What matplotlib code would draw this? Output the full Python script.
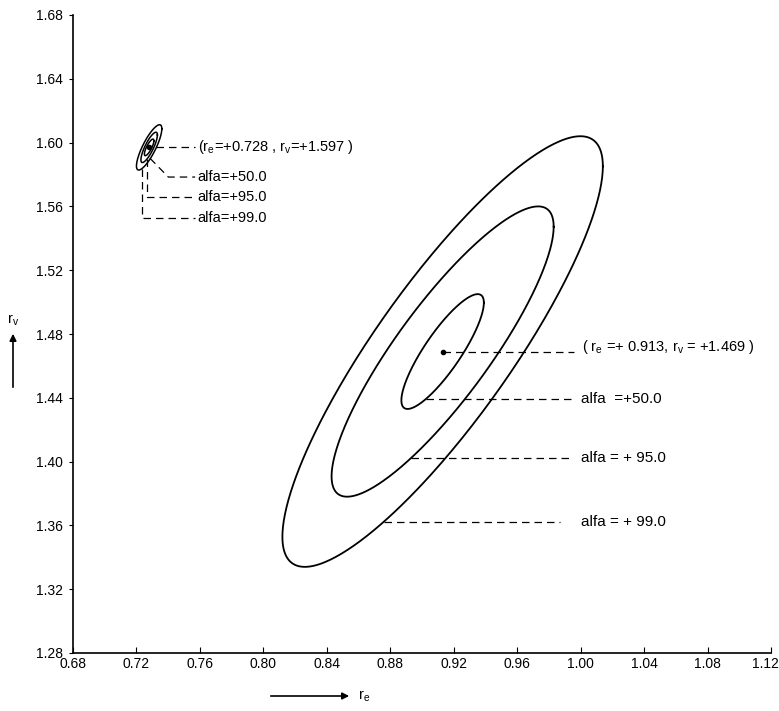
import numpy as np
import matplotlib
matplotlib.use('Agg')
import matplotlib.pyplot as plt
from matplotlib.transforms import ScaledTranslation

plt.rcParams['font.family'] = ['Liberation Sans', 'DejaVu Sans']
plt.rcParams['mathtext.fontset'] = 'custom'
plt.rcParams['mathtext.rm'] = 'Liberation Sans'

# Estimated parameters (centres of the two confidence regions)
big_centre = (0.913, 1.469)
small_centre = (0.728, 1.597)
alfa_levels = [50.0, 95.0, 99.0]

# Half-widths in r_e / r_v and correlation of each contour
big_sx = [0.026, 0.070, 0.101]
big_sy = [0.036, 0.091, 0.135]
big_rho = [0.85, 0.86, 0.86]
small_sx = [0.003, 0.0052, 0.008]
small_sy = [0.0052, 0.0095, 0.0142]
small_rho = [0.80, 0.82, 0.82]

x_ticks = [0.68, 0.72, 0.76, 0.80, 0.84, 0.88, 0.92, 0.96, 1.00, 1.04, 1.08, 1.12]
y_ticks = [1.28, 1.32, 1.36, 1.40, 1.44, 1.48, 1.52, 1.56, 1.60, 1.64, 1.68]

# Where the label leader lines sit (r_v level of each label)
big_label_y = [1.4393, 1.402, 1.3623]
small_label_y = [1.5784, 1.5661, 1.5525]


def ellipse_xy(c, sx, sy, rho, n=400):
    t = np.linspace(0, 2 * np.pi, n)
    x = c[0] + sx * np.cos(t)
    y = c[1] + sy * (rho * np.cos(t) + np.sqrt(1 - rho ** 2) * np.sin(t))
    return x, y


def right_x_at(y, c, sx, sy, rho):
    # right hand crossing of the contour with a horizontal line
    v = (y - c[1]) / sy
    b = -2 * rho * v
    cc = v ** 2 - (1 - rho ** 2)
    u = (-b + np.sqrt(max(b * b - 4 * cc, 0))) / 2
    return c[0] + u * sx


def low_y_at(x, c, sx, sy, rho):
    # lower crossing of the contour with a vertical line
    u = (x - c[0]) / sx
    b = -2 * rho * u
    cc = u ** 2 - (1 - rho ** 2)
    v = (-b - np.sqrt(max(b * b - 4 * cc, 0))) / 2
    return c[1] + v * sy


fig = plt.figure(figsize=(7.79, 7.11), dpi=100)
ax = fig.add_axes([73 / 779, 1 - 653 / 711, 698 / 779, 638 / 711])

# Contours
for sx, sy, rho in zip(big_sx, big_sy, big_rho):
    x, y = ellipse_xy(big_centre, sx, sy, rho)
    ax.plot(x, y, color='black', lw=1.3)
for sx, sy, rho in zip(small_sx, small_sy, small_rho):
    x, y = ellipse_xy(small_centre, sx, sy, rho)
    ax.plot(x, y, color='black', lw=1.1)

ax.plot(*big_centre, 'o', color='black', ms=3)
ax.plot(*small_centre, 'o', color='black', ms=3)

dash = dict(color='black', lw=0.9, linestyle=(0, (6, 4)))
txt = dict(fontsize=10.5, va='center', ha='left')
big_txt = dict(fontsize=11, va='center', ha='left')

# Labels for the large region
ax.plot([big_centre[0], 0.996], [big_centre[1], big_centre[1]], **dash)
ax.text(1.001, big_centre[1] + 0.003,
        r'( r$_\mathrm{e}$ =+ %.3f, r$_\mathrm{v}$ = +%.3f )' % big_centre, **txt)
big_fmt = ['alfa  =+%.1f', 'alfa = + %.1f', 'alfa = + %.1f']
big_end = [0.996, 0.994, 0.987]
for i, lvl in enumerate(alfa_levels):
    yy = big_label_y[i]
    x0 = right_x_at(yy, big_centre, big_sx[i], big_sy[i], big_rho[i])
    ax.plot([x0, big_end[i]], [yy, yy], **dash)
    ax.text(1.0005, yy, big_fmt[i] % lvl, **big_txt)

# Labels for the small region
sx_out = right_x_at(small_centre[1], small_centre, small_sx[2], small_sy[2], small_rho[2])
ax.plot([sx_out, 0.757], [small_centre[1], small_centre[1]], **dash)
ax.text(0.7585, small_centre[1],
        r'(r$_\mathrm{e}$=+%.3f , r$_\mathrm{v}$=+%.3f )' % small_centre, **txt)

# alfa 50: slanted leader
ax.plot([0.7286, 0.7401, 0.757], [1.5901, small_label_y[0], small_label_y[0]], **dash)
# alfa 95 and 99: drop down, then across
drop_x = [0.7265, 0.7233]
for k, i in enumerate([1, 2]):
    y0 = low_y_at(drop_x[k], small_centre, small_sx[i], small_sy[i], small_rho[i])
    ax.plot([drop_x[k], drop_x[k], 0.757], [y0, small_label_y[i], small_label_y[i]], **dash)
for i, lvl in enumerate(alfa_levels):
    ax.text(0.7585, small_label_y[i], 'alfa=+%.1f' % lvl, **txt)

# Axes
ax.set_xlim(0.68, 1.12)
ax.set_ylim(1.28, 1.68)
ax.set_xticks(x_ticks)
ax.set_yticks(y_ticks)
ax.set_xticklabels(['%.2f' % v for v in x_ticks])
ax.set_yticklabels(['%.2f' % v for v in y_ticks])
ax.spines['top'].set_visible(False)
ax.spines['right'].set_visible(False)
ax.spines['left'].set_linewidth(1.2)
ax.spines['bottom'].set_linewidth(1.2)
ax.tick_params(axis='x', direction='in', length=4, pad=3, labelsize=10)
ax.tick_params(axis='y', direction='out', length=3, pad=4, labelsize=10)

# keep the last r_e label inside the picture
last = ax.get_xticklabels()[-1]
last.set_transform(last.get_transform() + ScaledTranslation(-6 / 100, 0, fig.dpi_scale_trans))

# Axis captions with arrows
arrow = dict(arrowstyle='-|>', color='black', lw=1.2, mutation_scale=10)
fig.add_artist(matplotlib.patches.FancyArrowPatch(
    (13 / 779, 1 - 390 / 711), (13 / 779, 1 - 331 / 711),
    transform=fig.transFigure, **arrow))
fig.text(13 / 779, 1 - 320 / 711, r'r$_\mathrm{v}$', fontsize=10.5, ha='center', va='center')
fig.add_artist(matplotlib.patches.FancyArrowPatch(
    (268 / 779, 1 - 696 / 711), (352 / 779, 1 - 696 / 711),
    transform=fig.transFigure, **arrow))
fig.text(358 / 779, 1 - 696 / 711, r'r$_\mathrm{e}$', fontsize=10.5, ha='left', va='center')

fig.savefig('out.png', dpi=100)
